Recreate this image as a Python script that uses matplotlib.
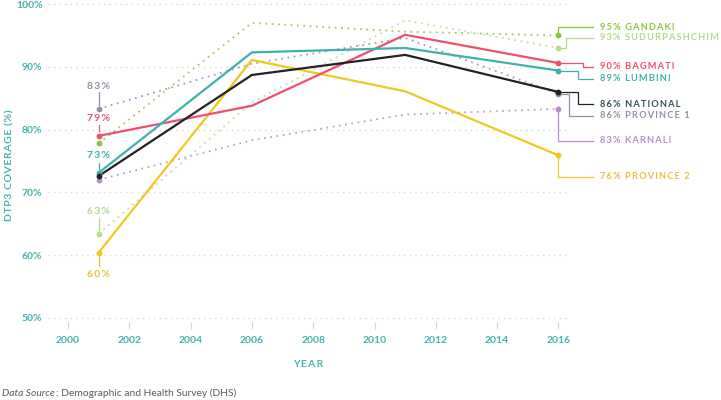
import matplotlib.pyplot as plt

# survey years and DTP3 coverage (%) by region
years = [2001, 2006, 2011, 2016]
national = [72.6, 88.7, 91.9, 86.0]
lumbini = [73.1, 92.3, 93.0, 89.4]
bagmati = [79.0, 83.8, 95.1, 90.6]
province2 = [60.4, 91.1, 86.1, 75.9]
gandaki = [77.8, 97.0, 95.6, 95.0]
sudurpashchim = [63.4, 84.3, 97.4, 93.0]
province1 = [83.3, 90.5, 94.6, 85.7]
karnali = [72.0, 78.3, 82.4, 83.3]

names = ['GANDAKI', 'SUDURPASHCHIM', 'BAGMATI', 'LUMBINI',
         'NATIONAL', 'PROVINCE 1', 'KARNALI', 'PROVINCE 2']
values = [gandaki, sudurpashchim, bagmati, lumbini,
          national, province1, karnali, province2]
end_labels = ['95%', '93%', '90%', '89%', '86%', '86%', '83%', '76%']
start_labels = [None, '63%', '79%', '73%', None, '83%', None, '60%']

# styles
line_colors = ['#8cc63f', '#b8dc8c', '#ef4f6c', '#3fb0ad',
               '#222222', '#8c93a3', '#b38fcc', '#f0c81e']
text_colors = ['#8cc63f', '#b3d98a', '#ef4f6c', '#3fb0ad',
               '#34535a', '#8c93a3', '#b38fcc', '#e8c03a']
dotted = [True, True, False, False, False, True, True, False]

# label layout on the right: (elbow x, label y)
right_layout = [(2016.0, 96.3), (2016.25, 94.65), (2016.8, 90.0), (2016.65, 88.1),
                (2016.65, 84.05), (2016.33, 82.2), (2016.0, 78.2), (2016.0, 72.5)]
# label layout on the left: (label y, line from, line to)
left_layout = [None, (67.0, 65.9, 64.0), (81.7, 80.7, 79.7), (75.8, 74.7, 73.7),
               None, (86.9, 86.0, 84.0), None, (57.0, 59.9, 58.3)]

teal = '#45b3ad'
plt.rcParams['font.family'] = ['Lato', 'DejaVu Sans']


def spaced(s, gap='\u2009'):
    # fake letter spacing with thin spaces
    return gap.join(s)


fig = plt.figure(figsize=(7.21, 4.0), dpi=100)
ax = fig.add_axes([48 / 721, (400 - 322) / 400, (568 - 48) / 721, (322 - 0.9) / 400])
ax.set_xlim(1999.35, 2016.31)
ax.set_ylim(49.36, 100.5)

ax.set_yticks([50, 60, 70, 80, 90, 100])
ax.set_yticklabels(['50%', '60%', '70%', '80%', '90%', '100%'])
ax.set_xticks(range(2000, 2017, 2))
ax.tick_params(axis='y', length=0, pad=4, labelsize=7.5, labelcolor=teal)
ax.tick_params(axis='x', length=5, width=0.8, color='#d5d5d5', pad=5,
               labelsize=7.5, labelcolor=teal)
for lab in ax.get_xticklabels() + ax.get_yticklabels():
    lab.set_fontweight('bold')
for s in ax.spines.values():
    s.set_visible(False)
ax.yaxis.grid(True, color='#dadada', linestyle=(0, (1, 3)), linewidth=1)
ax.set_axisbelow(True)

order = [6, 5, 0, 1, 7, 2, 3, 4]
for i in order:
    if dotted[i]:
        ax.plot(years, values[i], color=line_colors[i], linestyle=(0, (1, 2.5)),
                linewidth=1.3, alpha=0.85, zorder=3)
    else:
        ax.plot(years, values[i], color=line_colors[i], linewidth=1.6, zorder=4)
    ax.plot([years[0], years[-1]], [values[i][0], values[i][-1]], 'o',
            color=line_colors[i], markersize=3.2, zorder=5, clip_on=False)

# right-hand labels with elbow connectors
label_x = 2017.36
line_end = 2017.13
for i in range(len(names)):
    x0 = years[-1]
    y0 = values[i][-1]
    ex, ly = right_layout[i]
    ax.plot([x0, ex, ex, line_end], [y0, y0, ly, ly], color=line_colors[i],
            linewidth=0.9, clip_on=False, zorder=2)
    ax.text(label_x, ly, spaced(end_labels[i] + ' ' + names[i]), color=text_colors[i],
            fontsize=6.7, fontweight='bold', va='center', ha='left',
            clip_on=False)

# left-hand labels for 2001
for i in range(len(names)):
    if start_labels[i] is None:
        continue
    ly, l0, l1 = left_layout[i]
    ax.plot([years[0], years[0]], [l0, l1], color=text_colors[i], linewidth=0.9,
            zorder=2)
    ax.text(years[0], ly, spaced(start_labels[i]), color=text_colors[i], fontsize=7.5,
            fontweight='bold', ha='center', va='center')

ax.set_xlabel(spaced('YEAR'), color=teal, fontsize=7.5, fontweight='bold', labelpad=11)
fig.text(10 / 721, 1 - 165 / 400, spaced('DTP3 COVERAGE (%)', '\u200a'), rotation=90,
         color=teal, fontsize=7.5, fontweight='bold', ha='center', va='center')

fig.text(2 / 721, 1 - 393 / 400, 'Data Source', style='italic', color='#555c66',
         fontsize=7.4, va='center')
fig.text(56 / 721, 1 - 393 / 400, ': Demographic and Health Survey (DHS)',
         color='#555c66', fontsize=7.4, va='center')

fig.savefig('out.png', dpi=100)
